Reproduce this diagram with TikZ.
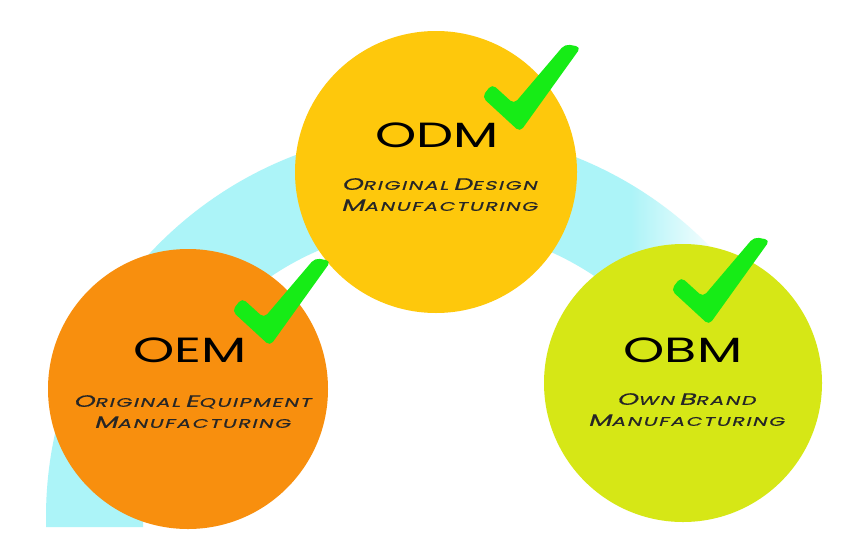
\documentclass[tikz,border=0pt]{standalone}
\usepackage{fontspec}
\setmainfont{Poppins}
\newfontfamily\subfont[FakeSlant=0.18,FakeBold=0.4,LetterSpace=8]{Poppins}
\usetikzlibrary{positioning,fadings}
\definecolor{bandcyan}{RGB}{172,244,248}
\definecolor{odmyellow}{RGB}{254,200,12}
\definecolor{oemorange}{RGB}{248,143,14}
\definecolor{obmlime}{RGB}{214,231,22}
\definecolor{tickgreen}{RGB}{22,236,22}
% wide letters, and fake small caps (big initial, smaller rest)
\newcommand{\wide}[1]{\scalebox{1.5}[1]{#1}}
\newcommand{\fsc}[2]{\scalebox{1.64}[1]{{\fontsize{16.5}{21}\selectfont #1}{\fontsize{12.5}{21}\selectfont #2}}}
\tikzset{
	tickmark/.pic={
		\fill[tickgreen,rounded corners=5pt] (0,0) -- (61,-85) -- (45,-88) -- (-6,-28) -- (-28,-48) -- (-38,-35) -- cycle;
	}
}
\begin{document}
\begin{tikzpicture}[x=1pt,y=-1pt,
	bubble/.style={circle,minimum size=#1,inner sep=0pt},
	title/.style={font=\fontsize{35}{35}\selectfont,inner sep=0pt,anchor=base},
	subtitle/.style={font=\subfont\fontsize{14}{21}\selectfont,align=center,inner sep=0pt,anchor=north,text=black!85}]
	\useasboundingbox[fill=white] (0,0) rectangle (845,541);
	% the band behind the circles, fading out on the right
	\begin{scope}
		\clip (433,517) -- (433,527) -- (0,527) -- (0,0) -- (845,0) -- (788,240) -- cycle;
		\fill[bandcyan,even odd rule] (433,517) circle (387) (433,517) circle (290);
	\end{scope}
	\fill[white,path fading=west] (630,110) rectangle (722,335);
	\fill[white] (721,110) rectangle (845,335);
	% circles
	\node[bubble=282pt,fill=odmyellow] (odm) at (436,172) {};
	\node[bubble=280pt,fill=oemorange] (oem) at (188,389) {};
	\node[bubble=278pt,fill=obmlime] (obm) at (683,383) {};
	% labels
	\node[title] (odmtitle) at (437,147) {\wide{ODM}};
	\node[subtitle] (odmsub) at (439,178) {\fsc{O}{RIGINAL} \fsc{D}{ESIGN}\\\fsc{M}{ANUFACTURING}};
	\node[title] (oemtitle) at (190,362) {\wide{OEM}};
	\node[subtitle] (oemsub) at (192,395) {\fsc{O}{RIGINAL} \fsc{E}{QUIPMENT}\\\fsc{M}{ANUFACTURING}};
	\node[title] (obmtitle) at (683,362) {\wide{OBM}};
	\node[subtitle] (obmsub) at (686,393) {\fsc{O}{WN} \fsc{B}{RAND}\\\fsc{M}{ANUFACTURING}};
	% ticks
	\pic at (520,132) {tickmark};
	\pic at (270,346) {tickmark};
	\pic at (709,325) {tickmark};
\end{tikzpicture}
\end{document}
